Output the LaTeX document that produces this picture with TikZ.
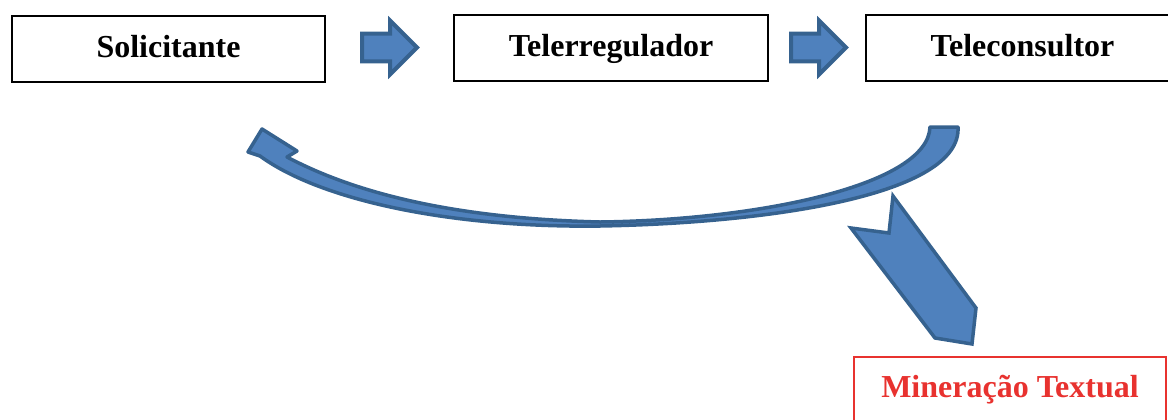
\documentclass[tikz,border=0pt]{standalone}
\usepackage{fontspec}
\setmainfont{Liberation Serif}
\usetikzlibrary{shapes.arrows,calc}
\definecolor{arrowfill}{HTML}{4F81BD}
\definecolor{arrowline}{HTML}{36628F}
\definecolor{minered}{HTML}{E8322F}
\tikzset{
    stepbox/.style={draw,line width=1pt,minimum height=33pt,text height=11pt,text depth=3pt,
        font=\fontsize{16}{19}\selectfont\bfseries},
    blockarrow/.style={single arrow,fill=arrowfill,draw=arrowline,line width=2pt,inner sep=0pt,
        inner ysep=5.9pt,single arrow head extend=6.5pt,minimum height=27.5pt,minimum width=0pt,
        anchor=tail},
    bigarrow/.style={fill=arrowfill,draw=arrowline,line width=1.75pt,line join=round},
    minetext/.style={text=minered,font=\fontsize{16}{19}\selectfont\bfseries},
    mineline/.style={draw=minered,line width=1pt}
}
\begin{document}
\begin{tikzpicture}[x=0.5pt,y=-0.5pt]
            \useasboundingbox (0,0) rectangle (1168,419);
            \clip (0,0) rectangle (1168,419);
            \node[stepbox,minimum width=156.5pt] (sol) at (168.5,49) {Solicitante};
            \node[stepbox,minimum width=157pt] (tel) at (611,48) {Telerregulador};
            \node[stepbox,minimum width=156.5pt] (cons) at (1022.5,48) {Teleconsultor};
            \node[blockarrow] (a1) at ($(sol.east)+(34,-1.5)$) {};
            \node[blockarrow] (a2) at ($(tel.east)+(20,-0.5)$) {};
            \draw[bigarrow] (930,127) -- (958,127)
                .. controls (962,195) and (770,223) .. (600,226)
                .. controls (450,228) and (320,200) .. (260,156)
                -- (248,152) -- (262,129) -- (297,151) -- (287,157)
                .. controls (370,201) and (480,219) .. (600,222)
                .. controls (760,220) and (928,185) .. (930,127) -- cycle;
            \draw[bigarrow,line join=miter] (893,196) -- (976,308) -- (972,344) -- (935,338)
                -- (851,228) -- (889,233) -- cycle;
            \node[minetext] (mine) at (1010,390) {Mineração Textual};
            \draw[mineline] (mine.center) ++(-156,-33) rectangle ++(312,90);
        \end{tikzpicture}
\end{document}
